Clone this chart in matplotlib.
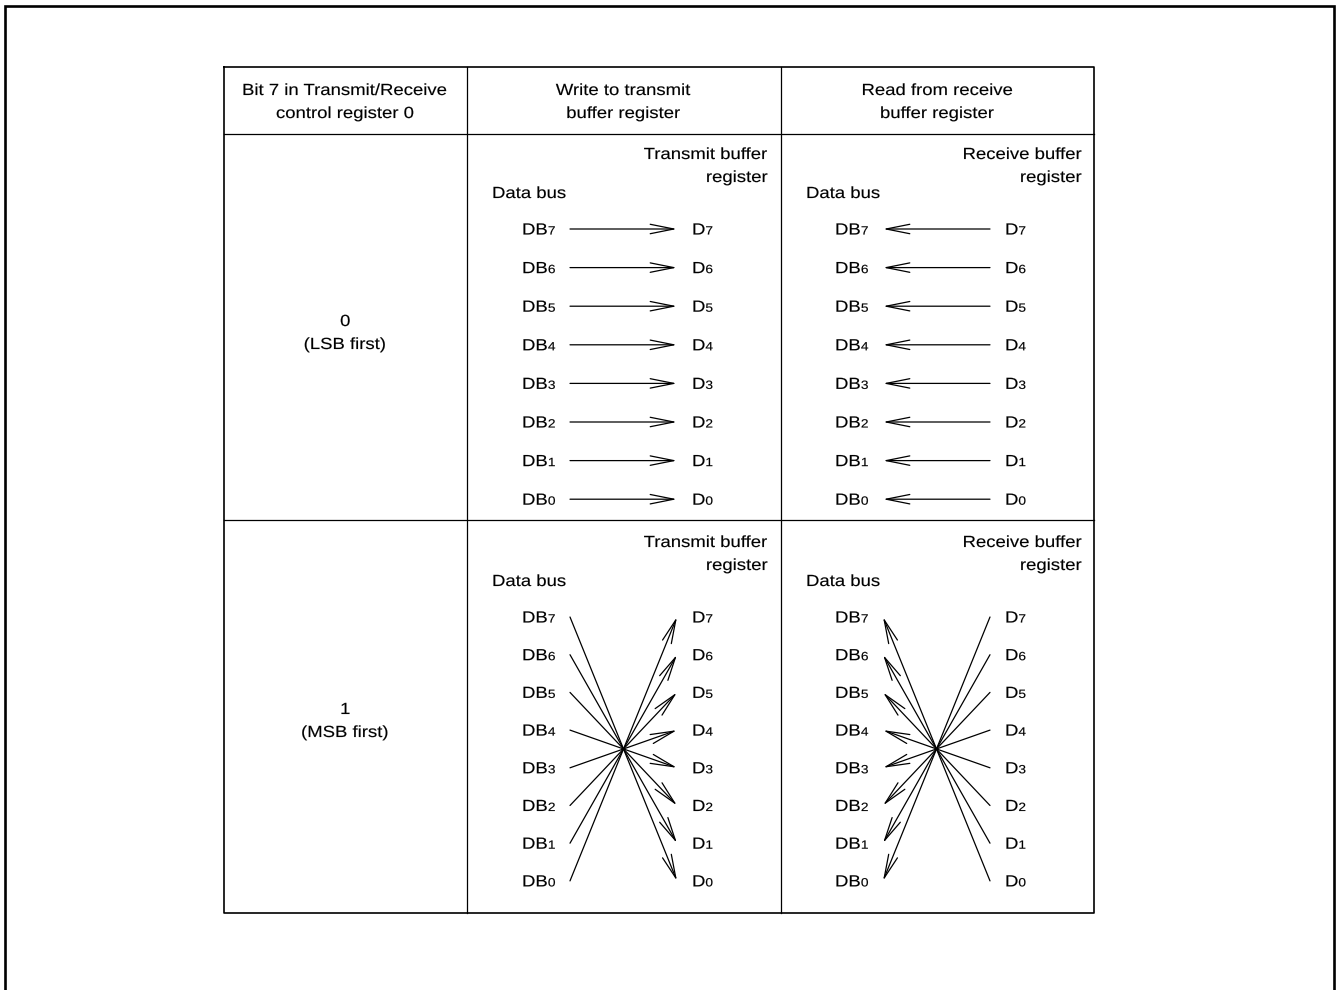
import matplotlib
matplotlib.use("Agg")
import matplotlib.pyplot as plt
from matplotlib.patheffects import AbstractPathEffect
from matplotlib.transforms import Affine2D

# ---------------- data ----------------
bits = [7, 6, 5, 4, 3, 2, 1, 0]
header_texts = [["Bit 7 in Transmit/Receive", "control register 0"],
                ["Write to transmit", "buffer register"],
                ["Read from receive", "buffer register"]]
row_labels = [["0", "(LSB first)"], ["1", "(MSB first)"]]
transmit_title = ["Transmit buffer", "register"]
receive_title = ["Receive buffer", "register"]
bus_title = "Data bus"
# mapping: data bus bit -> register bit for each mode
lsb_map = {b: b for b in bits}          # LSB first: DBn <-> Dn
msb_map = {b: 7 - b for b in bits}      # MSB first: DBn <-> D(7-n)

W, H = 1337, 990
plt.rcParams['font.family'] = ['Liberation Sans', 'DejaVu Sans']
fig = plt.figure(figsize=(W / 100, H / 100), dpi=100)
ax = fig.add_axes([0, 0, 1, 1])
ax.set_xlim(0, W)
ax.set_ylim(H, 0)
ax.axis('off')

FS = 11.6
FS_SUB = 8.6
LW = 0.9
SX = 1.15  # horizontal stretch of the lettering in the reference


class StretchX(AbstractPathEffect):
    """Draw text glyphs stretched horizontally about the text origin."""
    def __init__(self, sx, lw=0.1):
        super().__init__()
        self.sx = sx
        self.lw = lw

    def draw_path(self, renderer, gc, tpath, affine, rgbFace=None):
        gc0 = renderer.new_gc()
        gc0.copy_properties(gc)
        gc0.set_linewidth(self.lw)
        gc0.set_joinstyle('round')
        renderer.draw_path(gc0, tpath, Affine2D().scale(self.sx, 1) + affine, rgbFace)
        gc0.restore()


renderer = fig.canvas.get_renderer()
PE = [StretchX(SX)]


def put(x, y, s, ha='left', size=FS):
    t = ax.text(x, y, s, ha='left', va='baseline', fontsize=size, path_effects=PE)
    w = t.get_window_extent(renderer).width * SX
    if ha == 'center':
        t.set_x(x - w / 2)
    elif ha == 'right':
        t.set_x(x - w)
    return w


def sub_label(x, y, main, digit):
    w = put(x, y, main)
    put(x + w, y, str(digit), size=FS_SUB)


# outer frame
ax.plot([5, 5, 1334, 1334], [H + 5, 6, 6, H + 5], color='black', lw=1.9,
        solid_joinstyle='miter')

# table grid
tx0, tx1 = 224, 1094
ty0, ty1 = 66.5, 912.5
col_x = [224, 466.5, 780.5, 1094]
row_y = [66.5, 134, 520, 912.5]
ax.plot([tx0, tx1, tx1, tx0, tx0], [ty0, ty0, ty1, ty1, ty0], color='black', lw=1.2)
for cx in col_x[1:-1]:
    ax.plot([cx, cx], [ty0, ty1], color='black', lw=LW)
for ry in row_y[1:-1]:
    ax.plot([tx0, tx1], [ry, ry], color='black', lw=LW)

# header texts
for i, lines in enumerate(header_texts):
    cx = (col_x[i] + col_x[i + 1]) / 2
    for j, s in enumerate(lines):
        put(cx, 95 + 23 * j, s, ha='center')

# row label texts
for r, (lines, base) in enumerate(zip(row_labels, [326, 714])):
    cx = (col_x[0] + col_x[1]) / 2
    for j, s in enumerate(lines):
        put(cx, base + 23 * j, s, ha='center')


def arrow(x0, y0, x1, y1):
    ax.annotate('', xy=(x1, y1), xytext=(x0, y0),
                arrowprops=dict(arrowstyle='->,head_length=17,head_width=3.4',
                                mutation_scale=1, lw=LW, color='black',
                                shrinkA=0, shrinkB=0))


def panel(top, spacing, bus_left, lbl_left, arrow_l, arrow_r, reg_right,
          title, mapping, transmit):
    put(reg_right, top, title[0], ha='right')
    put(reg_right, top + 23, title[1], ha='right')
    put(bus_left, top + 39, bus_title)
    first = top + 75.5
    ys = {b: first + spacing * k for k, b in enumerate(bits)}
    for b in bits:
        sub_label(lbl_left, ys[b], 'DB', b)
        sub_label(lbl_left + 170, ys[b], 'D', b)
    for b in bits:
        d = mapping[b]
        yl = ys[b] - 5.5
        yr = ys[d] - 5.5
        if transmit:
            arrow(arrow_l, yl, arrow_r, yr)
        else:
            arrow(arrow_r, yr, arrow_l, yl)


# LSB first
panel(159, 38.6, 492, 522, 570, 677, 768, transmit_title, lsb_map, True)
panel(159, 38.6, 806, 835, 883, 990, 1082, receive_title, lsb_map, False)
# MSB first
panel(547, 37.7, 492, 522, 570, 677, 768, transmit_title, msb_map, True)
panel(547, 37.7, 806, 835, 883, 990, 1082, receive_title, msb_map, False)

fig.savefig('out.png', dpi=100, facecolor='white')
